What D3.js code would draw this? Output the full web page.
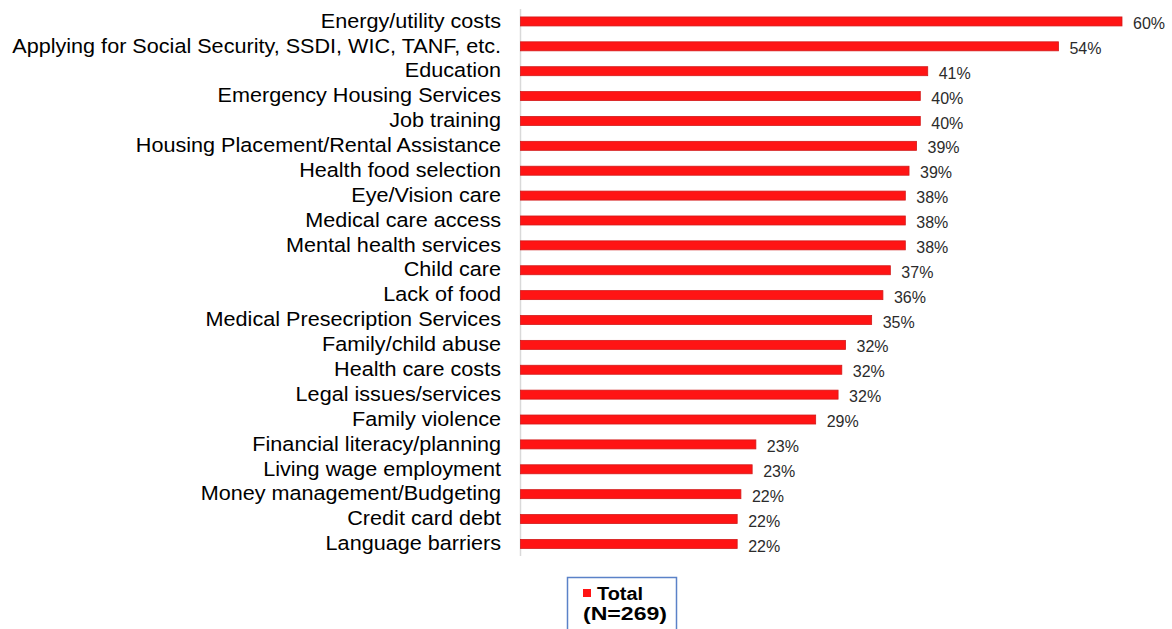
<!DOCTYPE html>
<html>
<head>
<meta charset="utf-8">
<script src="https://cdn.jsdelivr.net/npm/d3@7"></script>
<style>
  html, body { margin: 0; padding: 0; background: #ffffff; }
  svg { display: block; }
</style>
</head>
<body>
<svg id="chart" width="1172" height="629"></svg>
<script>
const categories = [
  "Energy/utility costs",
  "Applying for Social Security, SSDI, WIC, TANF, etc.",
  "Education",
  "Emergency Housing Services",
  "Job training",
  "Housing Placement/Rental Assistance",
  "Health food selection",
  "Eye/Vision care",
  "Medical care access",
  "Mental health services",
  "Child care",
  "Lack of food",
  "Medical Presecription Services",
  "Family/child abuse",
  "Health care costs",
  "Legal issues/services",
  "Family violence",
  "Financial literacy/planning",
  "Living wage employment",
  "Money management/Budgeting",
  "Credit card debt",
  "Language barriers"
];
const totalValues = [59.85, 53.53, 40.52, 39.78, 39.78, 39.41, 38.66, 38.29, 38.29, 38.29,
  36.80, 36.06, 34.94, 32.34, 31.97, 31.60, 29.37, 23.42, 23.05, 21.93, 21.56, 21.56];
const valueLabels = ["60%", "54%", "41%", "40%", "40%", "39%", "39%", "38%", "38%", "38%",
  "37%", "36%", "35%", "32%", "32%", "32%", "29%", "23%", "23%", "22%", "22%", "22%"];
const seriesName = "Total";
const seriesNote = "(N=269)";

const svg = d3.select("#chart");
const data = categories.map((c, i) => ({ cat: c, v: totalValues[i], label: valueLabels[i] }));

const x = d3.scaleLinear().domain([0, 60]).range([520.5, 520.5 + 603]);
const y = d3.scaleBand().domain(categories).range([9, 9 + 22 * 24.88]).paddingInner(0.62).paddingOuter(0.31);

// vertical axis line
svg.append("line")
  .attr("x1", x(0)).attr("x2", x(0))
  .attr("y1", 9).attr("y2", 556)
  .attr("stroke", "#d9d9d9").attr("stroke-width", 1.5);

// category labels
svg.append("g").selectAll("text").data(data).join("text")
  .attr("transform", d => `translate(501,${y(d.cat) + y.bandwidth() / 2 - 0.5}) scale(1.12,1)`)
  .attr("dy", "0.35em")
  .attr("text-anchor", "end")
  .attr("font-family", "'Liberation Sans', Arial, sans-serif")
  .attr("font-size", 19.3)
  .attr("fill", "#000")
  .text(d => d.cat);

// bars
const barH = 9;
svg.append("g").selectAll("rect").data(data).join("rect")
  .attr("x", x(0))
  .attr("y", d => y(d.cat) + y.bandwidth() / 2 - barH / 2)
  .attr("width", d => x(d.v) - x(0))
  .attr("height", barH)
  .attr("fill", "#ff1414")
  .attr("stroke", "#d21a1a")
  .attr("stroke-width", 0.8);

// value labels
svg.append("g").selectAll("text").data(data).join("text")
  .attr("x", d => x(d.v) + 11)
  .attr("y", d => y(d.cat) + y.bandwidth() / 2 + 2)
  .attr("dy", "0.35em")
  .attr("font-family", "'Liberation Sans', Arial, sans-serif")
  .attr("font-size", 16)
  .attr("fill", "#2b2b2b")
  .text(d => d.label);

// legend
const lg = svg.append("g");
lg.append("rect")
  .attr("x", 567.5).attr("y", 577.5)
  .attr("width", 109).attr("height", 60)
  .attr("fill", "#fff")
  .attr("stroke", "#5b82c8").attr("stroke-width", 1.5);
lg.append("rect")
  .attr("x", 583).attr("y", 589)
  .attr("width", 8).attr("height", 8)
  .attr("fill", "#ff1414");
lg.append("text")
  .attr("x", 597).attr("y", 600)
  .attr("font-family", "'Liberation Sans', Arial, sans-serif")
  .attr("font-weight", "bold").attr("font-size", 18)
  .attr("textLength", 46).attr("lengthAdjust", "spacingAndGlyphs")
  .attr("fill", "#000")
  .text(seriesName);
lg.append("text")
  .attr("x", 583).attr("y", 620)
  .attr("font-family", "'Liberation Sans', Arial, sans-serif")
  .attr("font-weight", "bold").attr("font-size", 18)
  .attr("textLength", 84).attr("lengthAdjust", "spacingAndGlyphs")
  .attr("fill", "#000")
  .text(seriesNote);
</script>
</body>
</html>
